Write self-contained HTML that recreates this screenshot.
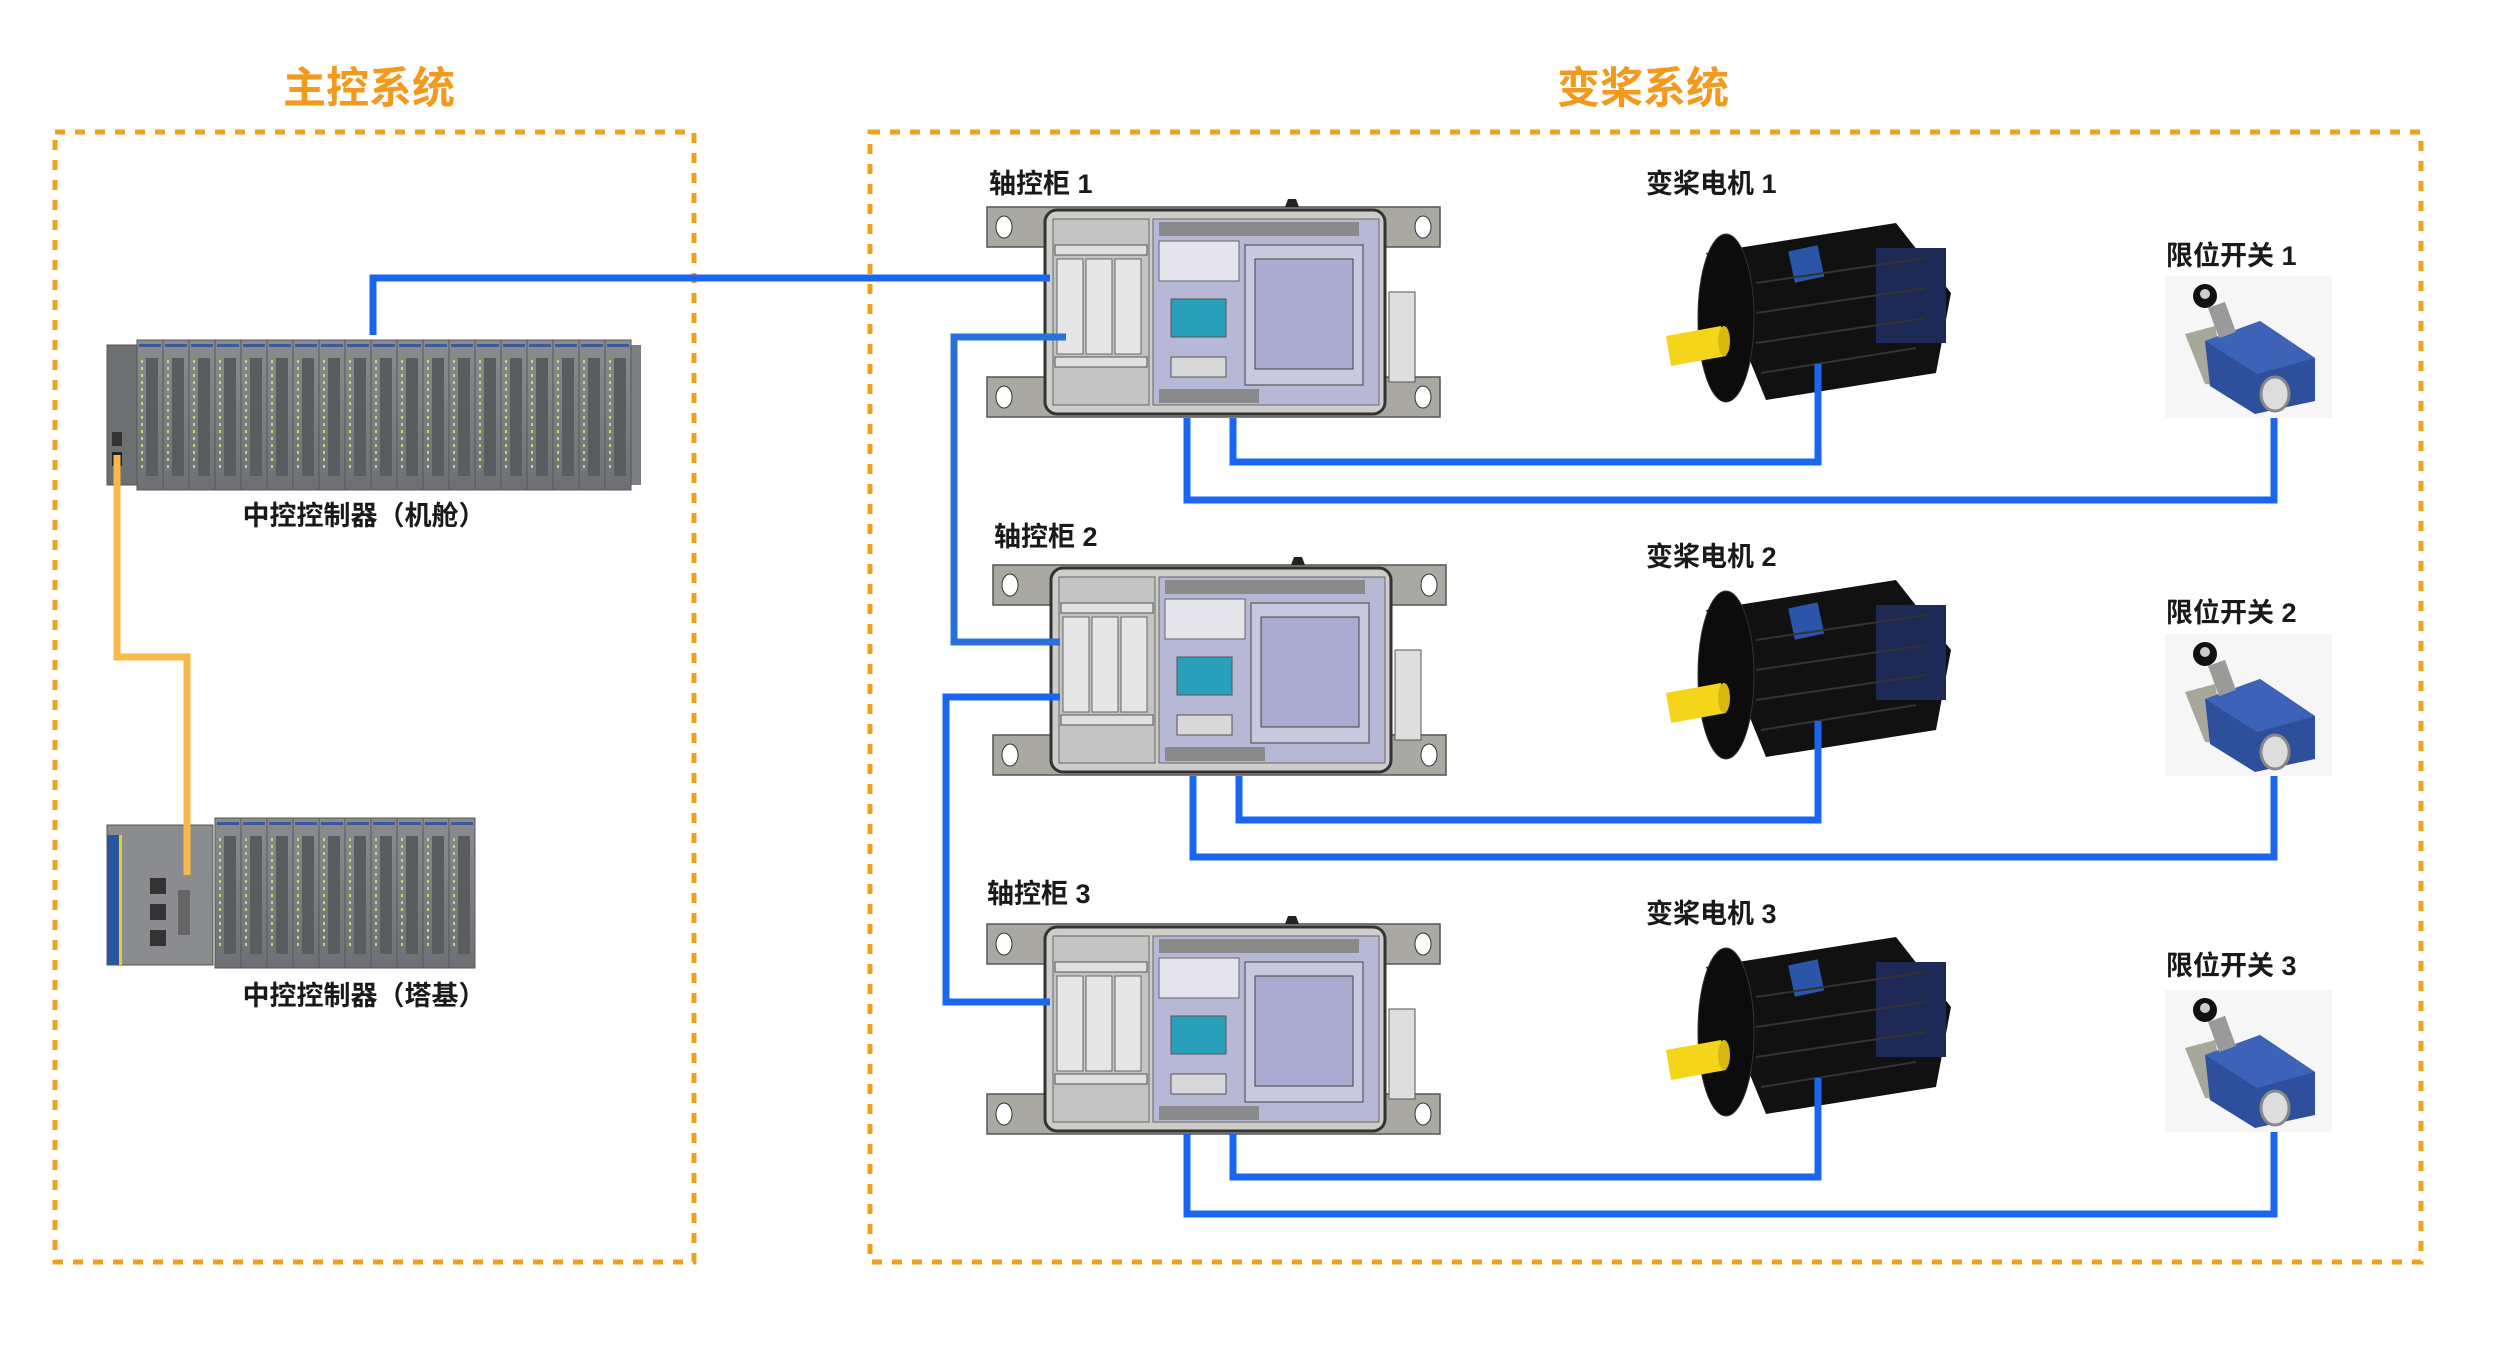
<!DOCTYPE html>
<html><head><meta charset="utf-8"><style>
html,body{margin:0;padding:0;background:#fff}
svg{display:block}
text{font-family:"Liberation Sans","Noto Sans CJK SC",sans-serif}
.lb{font-size:27px;fill:#1a1a1a;font-weight:bold}
</style></head><body>
<svg width="2501" height="1370" viewBox="0 0 2501 1370" xmlns="http://www.w3.org/2000/svg">
<defs>
<linearGradient id="plcg" x1="0" y1="0" x2="0" y2="1"><stop offset="0" stop-color="#8a8c90"/><stop offset="1" stop-color="#6e7074"/></linearGradient>
<g id="mod">
  <rect x="0" y="0" width="26" height="150" fill="url(#plcg)" stroke="#55575a" stroke-width="1"/>
  <rect x="2" y="4" width="22" height="3" fill="#3a5a9a"/>
  <rect x="9" y="18" width="12" height="118" fill="#5a5c60"/>
  <line x1="5" y1="20" x2="5" y2="130" stroke="#b8e070" stroke-width="2" stroke-dasharray="3 4"/>
</g>
<g id="cab">
  <rect x="0" y="0" width="453" height="40" fill="#aaa8a2" stroke="#555" stroke-width="1.5"/>
  <rect x="0" y="170" width="453" height="40" fill="#aaa8a2" stroke="#555" stroke-width="1.5"/>
  <ellipse cx="17" cy="20" rx="8" ry="11" fill="#fff" stroke="#333"/>
  <ellipse cx="436" cy="20" rx="8" ry="11" fill="#fff" stroke="#333"/>
  <ellipse cx="17" cy="190" rx="8" ry="11" fill="#fff" stroke="#333"/>
  <ellipse cx="436" cy="190" rx="8" ry="11" fill="#fff" stroke="#333"/>
  <path d="M298 0 l3 -8 h8 l3 8z" fill="#222"/>
  <rect x="58" y="3" width="340" height="204" rx="12" fill="#cfcdc9" stroke="#333" stroke-width="3"/>
  <rect x="66" y="12" width="96" height="186" fill="#c4c4c4" stroke="#666"/>
  <rect x="68" y="38" width="92" height="10" fill="#e0e0e0" stroke="#555"/>
  <rect x="68" y="150" width="92" height="10" fill="#e0e0e0" stroke="#555"/>
  <rect x="70" y="52" width="26" height="95" fill="#e6e6e6" stroke="#666"/>
  <rect x="99" y="52" width="26" height="95" fill="#e6e6e6" stroke="#666"/>
  <rect x="128" y="52" width="26" height="95" fill="#e6e6e6" stroke="#666"/>
  <rect x="166" y="12" width="226" height="186" fill="#b6b8d6" stroke="#666"/>
  <rect x="172" y="15" width="200" height="14" fill="#8a8a8a"/>
  <rect x="172" y="34" width="80" height="40" fill="#e4e4ea" stroke="#666"/>
  <rect x="184" y="92" width="55" height="38" fill="#2a9fba" stroke="#555"/>
  <rect x="184" y="150" width="55" height="20" fill="#d8d8d8" stroke="#555"/>
  <rect x="258" y="38" width="118" height="140" fill="#c8c9de" stroke="#444"/>
  <rect x="268" y="52" width="98" height="110" fill="#a9acd0" stroke="#444"/>
  <rect x="172" y="182" width="100" height="14" fill="#8a8a8a"/>
  <rect x="402" y="85" width="26" height="90" fill="#dedede" stroke="#555"/>
</g>
<g id="motor">
  <path d="M40 30 L230 0 L285 70 L270 150 L100 177 Z" fill="#111"/>
  <ellipse cx="60" cy="95" rx="28" ry="84" fill="#0c0c0c" stroke="#333"/>
  <rect x="210" y="25" width="70" height="95" fill="#1c2a55"/>
  <rect x="125" y="25" width="30" height="32" fill="#2a55a8" transform="rotate(-12 140 40)"/>
  <g stroke="#333" stroke-width="2"><line x1="90" y1="60" x2="260" y2="35"/><line x1="90" y1="90" x2="260" y2="65"/><line x1="90" y1="120" x2="260" y2="95"/><line x1="95" y1="150" x2="250" y2="125"/></g>
  <path d="M0 113 L55 103 L60 133 L5 143 Z" fill="#f4d51a"/>
  <ellipse cx="58" cy="118" rx="6" ry="15" fill="#d8b810"/>
</g>
<g id="sw">
  <rect x="0" y="0" width="167" height="142" fill="#f6f6f6"/>
  <path d="M20 58 L50 50 L62 110 L40 108 Z" fill="#a8a89a"/>
  <path d="M40 65 L95 45 L150 82 L150 125 L90 138 L45 110 Z" fill="#2e4f9c"/>
  <path d="M40 65 L95 45 L150 82 L92 98 Z" fill="#3d63b8"/>
  <ellipse cx="110" cy="118" rx="14" ry="17" fill="#ddd" stroke="#888" stroke-width="3"/>
  <rect x="48" y="28" width="18" height="32" fill="#9a9a98" transform="rotate(-20 57 44)"/>
  <circle cx="40" cy="20" r="12" fill="#111"/>
  <circle cx="40" cy="18" r="5" fill="#ccc"/>
</g>
</defs>

<text x="369" y="103" font-size="43" font-weight="bold" fill="#f39a1e" text-anchor="middle">主控系统</text>
<text x="1643" y="103" font-size="43" font-weight="bold" fill="#f39a1e" text-anchor="middle">变桨系统</text>

<rect x="55" y="132" width="639" height="1130" fill="none" stroke="#eca21a" stroke-width="5" stroke-dasharray="10 10"/>
<rect x="870" y="132" width="1551" height="1130" fill="none" stroke="#eca21a" stroke-width="5" stroke-dasharray="10 10"/>

<rect x="107" y="345" width="534" height="140" fill="#7c7e82"/>
<rect x="107" y="345" width="30" height="140" fill="#6d6f73" stroke="#555"/>
<rect x="112" y="432" width="10" height="14" fill="#333"/>
<rect x="112" y="452" width="10" height="14" fill="#222"/>
<use href="#mod" x="137" y="340"/><use href="#mod" x="163" y="340"/><use href="#mod" x="189" y="340"/><use href="#mod" x="215" y="340"/><use href="#mod" x="241" y="340"/><use href="#mod" x="267" y="340"/><use href="#mod" x="293" y="340"/><use href="#mod" x="319" y="340"/><use href="#mod" x="345" y="340"/><use href="#mod" x="371" y="340"/><use href="#mod" x="397" y="340"/><use href="#mod" x="423" y="340"/><use href="#mod" x="449" y="340"/><use href="#mod" x="475" y="340"/><use href="#mod" x="501" y="340"/><use href="#mod" x="527" y="340"/><use href="#mod" x="553" y="340"/><use href="#mod" x="579" y="340"/><use href="#mod" x="605" y="340"/>
<text x="364" y="525" class="lb" text-anchor="middle">中控控制器（机舱）</text>

<rect x="107" y="825" width="106" height="140" fill="#8a8c90" stroke="#555"/>
<rect x="107" y="835" width="12" height="130" fill="#2a56a0"/>
<rect x="119" y="835" width="3" height="130" fill="#e8d020"/>
<rect x="150" y="878" width="16" height="16" fill="#333"/><rect x="150" y="904" width="16" height="16" fill="#333"/><rect x="150" y="930" width="16" height="16" fill="#333"/>
<rect x="178" y="890" width="12" height="45" fill="#666"/>
<use href="#mod" x="215" y="818"/><use href="#mod" x="241" y="818"/><use href="#mod" x="267" y="818"/><use href="#mod" x="293" y="818"/><use href="#mod" x="319" y="818"/><use href="#mod" x="345" y="818"/><use href="#mod" x="371" y="818"/><use href="#mod" x="397" y="818"/><use href="#mod" x="423" y="818"/><use href="#mod" x="449" y="818"/>
<text x="364" y="1005" class="lb" text-anchor="middle">中控控制器（塔基）</text>

<polyline points="117,455 117,657 187,657 187,875" fill="none" stroke="#f9b84a" stroke-width="7"/>

<use href="#cab" x="987" y="207"/>
<use href="#cab" x="993" y="565"/>
<use href="#cab" x="987" y="924"/>
<text x="989" y="193" class="lb">轴控柜 1</text>
<text x="994" y="546" class="lb">轴控柜 2</text>
<text x="987" y="903" class="lb">轴控柜 3</text>

<use href="#motor" x="1666" y="223"/>
<use href="#motor" x="1666" y="580"/>
<use href="#motor" x="1666" y="937"/>
<text x="1646" y="193" class="lb">变桨电机 1</text>
<text x="1646" y="566" class="lb">变桨电机 2</text>
<text x="1646" y="923" class="lb">变桨电机 3</text>

<use href="#sw" x="2165" y="276"/>
<use href="#sw" x="2165" y="634"/>
<use href="#sw" x="2165" y="990"/>
<text x="2166" y="265" class="lb">限位开关 1</text>
<text x="2166" y="622" class="lb">限位开关 2</text>
<text x="2166" y="975" class="lb">限位开关 3</text>

<g fill="none" stroke="#1a66f0" stroke-width="7">
<polyline points="373,335 373,278 1050,278"/>
<polyline points="1066,337 954,337 954,642 1060,642" stroke="#2a70d8"/>
<polyline points="1060,697 946,697 946,1002 1050,1002"/>
<polyline points="1233,418 1233,462 1818,462 1818,364"/>
<polyline points="1187,418 1187,500 2274,500 2274,418"/>
<polyline points="1239,776 1239,820 1818,820 1818,721"/>
<polyline points="1193,776 1193,857 2274,857 2274,776"/>
<polyline points="1233,1134 1233,1177 1818,1177 1818,1078"/>
<polyline points="1187,1134 1187,1214 2274,1214 2274,1132"/>
</g>
</svg>
</body></html>
